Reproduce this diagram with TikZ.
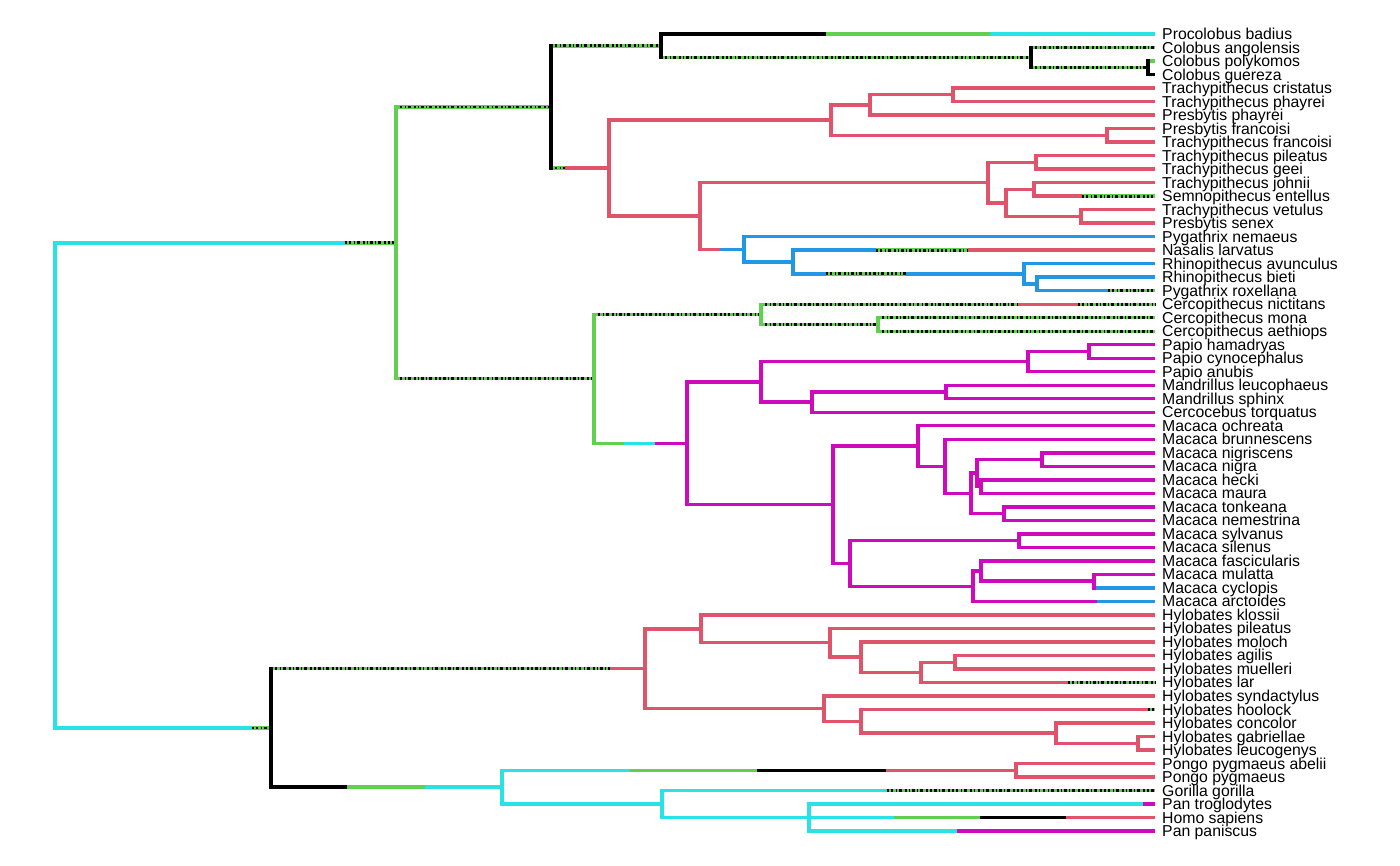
\documentclass[tikz,border=0pt]{standalone}
\usepackage{fontspec}
\setmainfont{Liberation Sans}
\usepackage{tikz}
\usetikzlibrary{calc}
\definecolor{pRed}{HTML}{DF536B}
\definecolor{pGreen}{HTML}{61D04F}
\definecolor{pBlue}{HTML}{2297E6}
\definecolor{pCyan}{HTML}{28E2E5}
\definecolor{pMag}{HTML}{CD0BBC}
\tikzset{
	br/.style={line width=3.4pt},
	rd/.style={br,draw=pRed},
	gn/.style={br,draw=pGreen},
	bu/.style={br,draw=pBlue},
	cy/.style={br,draw=pCyan},
	mg/.style={br,draw=pMag},
	bk/.style={br,draw=black},
	mx/.style={br,draw=pGreen,postaction={draw=black,line width=2.8pt,dash pattern=on 1.5pt off 2.2pt on 2.5pt off 2.5pt on 1pt off 2pt on 3pt off 3pt on 2pt off 2pt}},
	vl/.style={line cap=rect},
	tip/.style={anchor=base west,inner sep=0pt,yshift=-5.5pt,font=\fontsize{15.8}{16}\selectfont}
}

\begin{document}
\begin{tikzpicture}[x=1pt,y=-13.51pt]
	\useasboundingbox (0,-1.5167) rectangle (1400,62.51);
	% tips and labels
	\foreach \t [count=\i] in {Procolobus badius,Colobus angolensis,Colobus polykomos,Colobus guereza,
		Trachypithecus cristatus,Trachypithecus phayrei,Presbytis phayrei,Presbytis francoisi,Trachypithecus francoisi,
		Trachypithecus pileatus,Trachypithecus geei,Trachypithecus johnii,Semnopithecus entellus,Trachypithecus vetulus,
		Presbytis senex,Pygathrix nemaeus,Nasalis larvatus,Rhinopithecus avunculus,Rhinopithecus bieti,Pygathrix roxellana,
		Cercopithecus nictitans,Cercopithecus mona,Cercopithecus aethiops,Papio hamadryas,Papio cynocephalus,Papio anubis,
		Mandrillus leucophaeus,Mandrillus sphinx,Cercocebus torquatus,Macaca ochreata,Macaca brunnescens,Macaca nigriscens,
		Macaca nigra,Macaca hecki,Macaca maura,Macaca tonkeana,Macaca nemestrina,Macaca sylvanus,Macaca silenus,
		Macaca fascicularis,Macaca mulatta,Macaca cyclopis,Macaca arctoides,Hylobates klossii,Hylobates pileatus,
		Hylobates moloch,Hylobates agilis,Hylobates muelleri,Hylobates lar,Hylobates syndactylus,Hylobates hoolock,
		Hylobates concolor,Hylobates gabriellae,Hylobates leucogenys,Pongo pygmaeus abelii,Pongo pygmaeus,Gorilla gorilla,
		Pan troglodytes,Homo sapiens,Pan paniscus} {
		\coordinate (e\i) at (1155,\i);
		\node[tip] (t\i) at (1162,\i) {\t};
	}
	% internal nodes
	\coordinate (root) at (55,34.41);
	\coordinate (cercid) at (396,16.46);
	\coordinate (colobinae) at (551,6.40);
	\coordinate (colobini) at (661,1.875);
	\coordinate (colobus) at (1031,2.75);
	\coordinate (guereza) at (1148,3.5);
	\coordinate (presbytini) at (609,10.92);
	\coordinate (trachyA) at (831,7.375);
	\coordinate (phayA) at (870,6.25);
	\coordinate (crisph) at (953,5.5);
	\coordinate (francoisi) at (1107,8.5);
	\coordinate (asian) at (700,14.47);
	\coordinate (trachyB) at (988,12);
	\coordinate (pileatus) at (1036,10.5);
	\coordinate (johnii) at (1006,13.5);
	\coordinate (entellus) at (1034,12.5);
	\coordinate (vetulus) at (1081,14.5);
	\coordinate (odd) at (744,16.94);
	\coordinate (nasalis) at (793,17.875);
	\coordinate (rhino) at (1024,18.75);
	\coordinate (bieti) at (1037,19.5);
	\coordinate (cercopithecinae) at (594,26.52);
	\coordinate (cerco) at (761,21.75);
	\coordinate (mona) at (878,22.5);
	\coordinate (papionini) at (687,31.3);
	\coordinate (papionina) at (761,26.75);
	\coordinate (papio) at (1028,25.25);
	\coordinate (hamadryas) at (1089,24.5);
	\coordinate (mandrill) at (812,28.25);
	\coordinate (sphinx) at (946,27.5);
	\coordinate (macaca) at (833,35.84);
	\coordinate (ochreata) at (918,31.5);
	\coordinate (brunn) at (945,33);
	\coordinate (sulawesi) at (971,35);
	\coordinate (sulA) at (977,33.5);
	\coordinate (nigra) at (1042,32.5);
	\coordinate (hecki) at (981,34.5);
	\coordinate (tonkeana) at (1004,36.5);
	\coordinate (silenus) at (850,40.19);
	\coordinate (sylvanus) at (1019,38.5);
	\coordinate (arctoides) at (973,41.875);
	\coordinate (fasc) at (981,40.75);
	\coordinate (mulatta) at (1094,41.5);
	\coordinate (hominoidea) at (271,52.37);
	\coordinate (hylo) at (645,47.98);
	\coordinate (klossii) at (701,45.03);
	\coordinate (hpil) at (830,46.06);
	\coordinate (moloch) at (861,47.125);
	\coordinate (agilis) at (921,48.25);
	\coordinate (muelleri) at (955,47.5);
	\coordinate (synd) at (824,50.94);
	\coordinate (hoolock) at (861,51.875);
	\coordinate (concolor) at (1056,52.75);
	\coordinate (leuco) at (1138,53.5);
	\coordinate (hominidae) at (502,56.75);
	\coordinate (pongo) at (1016,55.5);
	\coordinate (homininae) at (662,58);
	\coordinate (homo) at (809,59);

	% branches with a change of state
	\draw[cy] (root |- cercid) -- (345,0 |- cercid);
	\draw[mx] (345,0 |- cercid) -- (cercid);
	\draw[cy] (root |- hominoidea) -- (252,0 |- hominoidea);
	\draw[mx] (252,0 |- hominoidea) -- (hominoidea);
	\draw[mx] (colobinae |- presbytini) -- (565,0 |- presbytini);
	\draw[rd] (565,0 |- presbytini) -- (presbytini);
	\draw[bk] (colobini |- e1) -- (826,0 |- e1);
	\draw[gn] (826,0 |- e1) -- (990,0 |- e1);
	\draw[cy] (990,0 |- e1) -- (e1);
	\draw[gn] (guereza |- e3) -- (e3);
	\draw[bk] (guereza |- e4) -- (e4);
	\draw[rd] (entellus |- e13) -- (1082,0 |- e13);
	\draw[mx] (1082,0 |- e13) -- (e13);
	\draw[rd] (asian |- odd) -- (720,0 |- odd);
	\draw[bu] (720,0 |- odd) -- (odd);
	\draw[bu] (nasalis |- e17) -- (876,0 |- e17);
	\draw[mx] (876,0 |- e17) -- (968,0 |- e17);
	\draw[rd] (968,0 |- e17) -- (e17);
	\draw[bu] (nasalis |- rhino) -- (826,0 |- rhino);
	\draw[mx] (826,0 |- rhino) -- (906,0 |- rhino);
	\draw[bu] (906,0 |- rhino) -- (rhino);
	\draw[bu] (bieti |- e20) -- (1108,0 |- e20);
	\draw[mx] (1108,0 |- e20) -- (e20);
	\draw[mx] (cerco |- e21) -- (1018,0 |- e21);
	\draw[rd] (1018,0 |- e21) -- (1078,0 |- e21);
	\draw[mx] (1078,0 |- e21) -- (e21);
	\draw[gn] (cercopithecinae |- papionini) -- (624,0 |- papionini);
	\draw[cy] (624,0 |- papionini) -- (655,0 |- papionini);
	\draw[mg] (655,0 |- papionini) -- (papionini);
	\draw[bu] (mulatta |- e42) -- (e42);
	\draw[mg] (arctoides |- e43) -- (1097,0 |- e43);
	\draw[bu] (1097,0 |- e43) -- (e43);
	\draw[mx] (hominoidea |- hylo) -- (610,0 |- hylo);
	\draw[rd] (610,0 |- hylo) -- (hylo);
	\draw[rd] (agilis |- e49) -- (1068,0 |- e49);
	\draw[mx] (1068,0 |- e49) -- (e49);
	\draw[rd] (hoolock |- e51) -- (1148,0 |- e51);
	\draw[mx] (1148,0 |- e51) -- (e51);
	\draw[bk] (hominoidea |- hominidae) -- (347,0 |- hominidae);
	\draw[gn] (347,0 |- hominidae) -- (425,0 |- hominidae);
	\draw[cy] (425,0 |- hominidae) -- (hominidae);
	\draw[cy] (hominidae |- pongo) -- (630,0 |- pongo);
	\draw[gn] (630,0 |- pongo) -- (757,0 |- pongo);
	\draw[bk] (757,0 |- pongo) -- (886,0 |- pongo);
	\draw[rd] (886,0 |- pongo) -- (pongo);
	\draw[cy] (homininae |- e57) -- (887,0 |- e57);
	\draw[mx] (887,0 |- e57) -- (e57);
	\draw[cy] (homo |- e58) -- (1143,0 |- e58);
	\draw[mg] (1143,0 |- e58) -- (e58);
	\draw[cy] (homo |- e59) -- (894,0 |- e59);
	\draw[gn] (894,0 |- e59) -- (980,0 |- e59);
	\draw[bk] (980,0 |- e59) -- (1066,0 |- e59);
	\draw[rd] (1066,0 |- e59) -- (e59);
	\draw[cy] (homo |- e60) -- (957,0 |- e60);
	\draw[mg] (957,0 |- e60) -- (e60);

	% branches in one state
	\foreach \a/\b in {cercid/colobinae,cercid/cercopithecinae,colobinae/colobini,colobini/colobus,colobus/e2,
		colobus/guereza,cercopithecinae/cerco,cerco/mona,mona/e22,mona/e23}
		\draw[mx] (\a |- \b) -- (\b);
	\foreach \a/\b in {presbytini/trachyA,trachyA/phayA,phayA/crisph,crisph/e5,crisph/e6,phayA/e7,trachyA/francoisi,
		francoisi/e8,francoisi/e9,presbytini/asian,asian/trachyB,trachyB/pileatus,pileatus/e10,pileatus/e11,
		trachyB/johnii,johnii/entellus,entellus/e12,johnii/vetulus,vetulus/e14,vetulus/e15,
		hylo/klossii,klossii/e44,klossii/hpil,hpil/e45,hpil/moloch,moloch/e46,moloch/agilis,agilis/muelleri,
		muelleri/e47,muelleri/e48,hylo/synd,synd/e50,synd/hoolock,hoolock/concolor,concolor/e52,concolor/leuco,
		leuco/e53,leuco/e54,pongo/e55,pongo/e56}
		\draw[rd] (\a |- \b) -- (\b);
	\foreach \a/\b in {odd/e16,odd/nasalis,rhino/e18,rhino/bieti,bieti/e19}
		\draw[bu] (\a |- \b) -- (\b);
	\foreach \a/\b in {papionini/papionina,papionina/papio,papio/hamadryas,hamadryas/e24,hamadryas/e25,papio/e26,
		papionina/mandrill,mandrill/sphinx,sphinx/e27,sphinx/e28,mandrill/e29,papionini/macaca,macaca/ochreata,
		ochreata/e30,ochreata/brunn,brunn/e31,brunn/sulawesi,sulawesi/sulA,sulA/nigra,nigra/e32,nigra/e33,
		sulA/hecki,hecki/e34,hecki/e35,sulawesi/tonkeana,tonkeana/e36,tonkeana/e37,macaca/silenus,
		silenus/sylvanus,sylvanus/e38,sylvanus/e39,silenus/arctoides,arctoides/fasc,fasc/e40,fasc/mulatta,mulatta/e41}
		\draw[mg] (\a |- \b) -- (\b);
	\foreach \a/\b in {hominidae/homininae,homininae/homo}
		\draw[cy] (\a |- \b) -- (\b);

	% node bars
	\foreach \n/\a/\b in {root/cercid/hominoidea,hominidae/pongo/homininae,homininae/e57/homo,homo/e58/e60}
		\draw[cy,vl] (\n |- \a) -- (\n |- \b);
	\foreach \n/\a/\b in {cercid/colobinae/cercopithecinae,cercopithecinae/cerco/papionini,cerco/e21/mona,mona/e22/e23}
		\draw[gn,vl] (\n |- \a) -- (\n |- \b);
	\foreach \n/\a/\b in {colobinae/colobini/presbytini,colobini/e1/colobus,colobus/e2/guereza,guereza/e3/e4,
		hominoidea/hylo/hominidae}
		\draw[bk,vl] (\n |- \a) -- (\n |- \b);
	\foreach \n/\a/\b in {presbytini/trachyA/asian,trachyA/phayA/francoisi,phayA/crisph/e7,crisph/e5/e6,
		francoisi/e8/e9,asian/trachyB/odd,trachyB/pileatus/johnii,pileatus/e10/e11,johnii/entellus/vetulus,
		entellus/e12/e13,vetulus/e14/e15,hylo/klossii/synd,klossii/e44/hpil,hpil/e45/moloch,moloch/e46/agilis,
		agilis/muelleri/e49,muelleri/e47/e48,synd/e50/hoolock,hoolock/e51/concolor,concolor/e52/leuco,
		leuco/e53/e54,pongo/e55/e56}
		\draw[rd,vl] (\n |- \a) -- (\n |- \b);
	\foreach \n/\a/\b in {odd/e16/nasalis,nasalis/e17/rhino,rhino/e18/bieti,bieti/e19/e20}
		\draw[bu,vl] (\n |- \a) -- (\n |- \b);
	\foreach \n/\a/\b in {papionini/papionina/macaca,papionina/papio/mandrill,papio/hamadryas/e26,
		hamadryas/e24/e25,mandrill/sphinx/e29,sphinx/e27/e28,macaca/ochreata/silenus,ochreata/e30/brunn,
		brunn/e31/sulawesi,sulawesi/sulA/tonkeana,sulA/nigra/hecki,nigra/e32/e33,hecki/e34/e35,
		tonkeana/e36/e37,silenus/sylvanus/arctoides,sylvanus/e38/e39,arctoides/fasc/e43,fasc/e40/mulatta,
		mulatta/e41/e42}
		\draw[mg,vl] (\n |- \a) -- (\n |- \b);
\end{tikzpicture}
\end{document}
